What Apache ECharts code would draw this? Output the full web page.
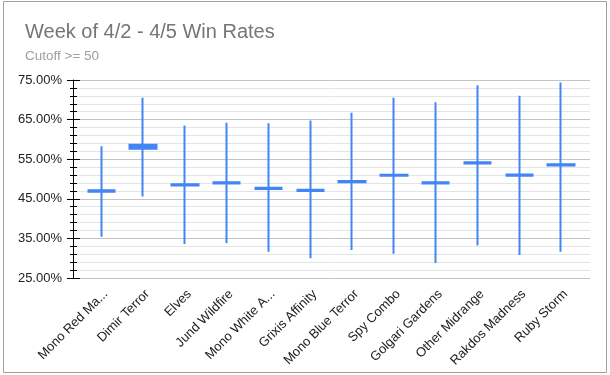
<!DOCTYPE html>
<html>
<head>
<meta charset="utf-8">
<script src="https://cdn.jsdelivr.net/npm/echarts@6/dist/echarts.min.js"></script>
<style>html,body{margin:0;padding:0;background:#fff}#c{width:610px;height:375px}</style>
</head>
<body>
<div id="c"></div>
<script>
var categories = ['Mono Red Ma...', 'Dimir Terror', 'Elves', 'Jund Wildfire', 'Mono White A...', 'Grixis Affinity', 'Mono Blue Terror', 'Spy Combo', 'Golgari Gardens', 'Other Midrange', 'Rakdos Madness', 'Ruby Storm'];
var lowValues   = [35.4, 45.6, 33.6, 33.8, 31.6, 30.0, 32.1, 31.1, 28.8, 33.2, 30.8, 31.6];
var openValues  = [46.8, 57.65, 48.35, 48.85, 47.5, 47.0, 49.2, 50.8, 48.85, 53.9, 50.85, 53.4];
var closeValues = [47.15, 58.65, 48.65, 49.15, 47.8, 47.3, 49.5, 51.1, 49.15, 54.2, 51.15, 53.7];
var highValues  = [58.3, 70.5, 63.5, 64.2, 64.1, 64.8, 66.7, 70.5, 69.4, 73.7, 71.0, 74.4];
var yTicks = [25, 35, 45, 55, 65, 75];

var ff = 'Liberation Sans, Arial, sans-serif';
var blue = '#4285F4';
var candleData = categories.map(function (c, i) {
  return [openValues[i], closeValues[i], lowValues[i], highValues[i]];
});

var chart = echarts.init(document.getElementById('c'), null, {renderer: 'canvas'});
var yBase = {
  type: 'value', min: yTicks[0], max: yTicks[yTicks.length - 1], interval: 10
};
chart.setOption({
  animation: false,
  backgroundColor: '#fff',
  title: [
    {text: 'Week of 4/2 - 4/5 Win Rates', left: 20, top: 17,
     textStyle: {fontFamily: ff, fontSize: 20, fontWeight: 'normal', color: '#757575'}},
    {text: 'Cutoff >= 50', left: 20, top: 44,
     textStyle: {fontFamily: ff, fontSize: 13.5, fontWeight: 'normal', color: '#9e9e9e'}}
  ],
  graphic: [{
    type: 'rect', shape: {x: 3.5, y: 1.5, width: 603, height: 371},
    style: {fill: 'none', stroke: '#a0a0a0', lineWidth: 1}, silent: true, z: -1
  }],
  grid: [
    {left: 73, right: 20, top: 80, height: 198},
    {left: 80.4, right: 28, top: 80, height: 198},
    {left: 84.9, right: 23.5, top: 80, height: 198}
  ],
  xAxis: [
    {type: 'value', gridIndex: 0, min: 0, max: 1, show: false},
    {type: 'category', gridIndex: 1, data: categories, boundaryGap: true,
     axisLine: {show: false}, axisTick: {show: false}, splitLine: {show: false},
     axisLabel: {show: false}},
    {type: 'category', gridIndex: 2, data: categories, boundaryGap: true,
     axisLine: {show: false}, axisTick: {show: false}, splitLine: {show: false},
     axisLabel: {rotate: 45, margin: 14, interval: 0, fontFamily: ff, fontSize: 13, color: '#222'}}
  ],
  yAxis: [
    Object.assign({}, yBase, {gridIndex: 0, position: 'left',
      axisLine: {show: true, lineStyle: {color: '#000', width: 1}},
      axisTick: {show: true, length: 6, lineStyle: {color: '#000'}},
      minorTick: {show: true, splitNumber: 5, length: 3, lineStyle: {color: '#000'}},
      splitLine: {show: true, lineStyle: {color: '#c4c4c4', width: 1}},
      minorSplitLine: {show: true, lineStyle: {color: '#e4e4e4', width: 1}},
      axisLabel: {margin: 11, fontFamily: ff, fontSize: 13, color: '#222',
        formatter: function (v) { return v.toFixed(2) + '%'; }}
    }),
    Object.assign({}, yBase, {gridIndex: 0, position: 'left', offset: 0,
      axisLine: {show: false},
      axisTick: {show: true, inside: true, length: 7, lineStyle: {color: '#000'}},
      minorTick: {show: true, splitNumber: 5, length: 4, lineStyle: {color: '#000'}},
      splitLine: {show: false}, axisLabel: {show: false}
    }),
    Object.assign({}, yBase, {gridIndex: 1, show: false, splitLine: {show: false}}),
    Object.assign({}, yBase, {gridIndex: 2, show: false, splitLine: {show: false}})
  ],
  series: [{
    type: 'candlestick', xAxisIndex: 1, yAxisIndex: 2,
    data: candleData, barWidth: 27,
    itemStyle: {color: blue, color0: blue, borderColor: blue, borderColor0: blue, borderWidth: 2}
  }]
});
</script>
</body>
</html>
